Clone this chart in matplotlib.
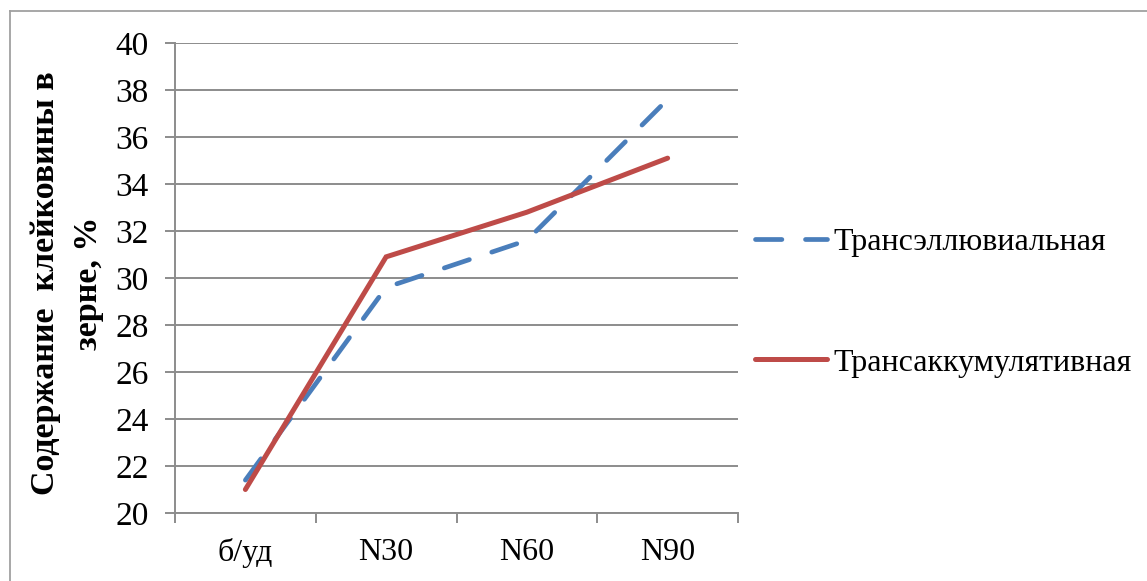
import matplotlib
matplotlib.use("Agg")
import matplotlib.pyplot as plt
from matplotlib.lines import Line2D

plt.rcParams['font.family'] = ['Liberation Serif', 'DejaVu Serif']
plt.rcParams['lines.scale_dashes'] = False

categories = ["б/уд", "N30", "N60", "N90"]
transeluvial = [21.4, 29.6, 31.6, 37.6]
transaccumulative = [21.0, 30.9, 32.8, 35.1]
series_names = ["Трансэллювиальная", "Трансаккумулятивная"]
y_ticks = list(range(20, 41, 2))

W, H = 1147, 581
fig = plt.figure(figsize=(W / 100, H / 100), dpi=100)
ax = fig.add_axes([175 / W, 1 - 513 / H, (738 - 175) / W, (513 - 43) / H])

grid_col = "#8c8c8c"
blue = "#4a7ebb"
red = "#be4b48"

x = list(range(len(categories)))
ax.plot(x, transeluvial, color=blue, lw=3.4, dashes=(19, 17),
        dash_capstyle="round", solid_capstyle="round", label=series_names[0], zorder=3)
ax.plot(x, transaccumulative, color=red, lw=3.6, solid_capstyle="round",
        solid_joinstyle="miter", label=series_names[1], zorder=3)

ax.set_ylim(20, 40)
ax.set_xlim(-0.5, len(categories) - 0.5)
ax.set_yticks(y_ticks)
ax.set_yticklabels([str(v) for v in y_ticks], fontsize=24)
ax.yaxis.grid(True, color=grid_col, lw=1.4)
ax.set_axisbelow(True)

ax.set_xticks([i - 0.5 for i in range(len(categories) + 1)])
ax.set_xticklabels([""] * (len(categories) + 1))
ax.set_xticks(x, minor=True)
ax.set_xticklabels(categories, minor=True, fontsize=23)
ax.tick_params(axis="x", which="minor", length=0, pad=18)
ax.tick_params(axis="x", which="major", length=7, width=1.4, color=grid_col)
ax.tick_params(axis="y", length=7, width=1.4, color=grid_col, pad=12)

for s in ("top", "right"):
    ax.spines[s].set_visible(False)
for s in ("left", "bottom"):
    ax.spines[s].set_color(grid_col)
    ax.spines[s].set_linewidth(1.4)

fig.text(46 / W, 1 - 283 / H, "Содержание  клейковины в", rotation=90,
         ha="center", va="center", fontsize=24.5, fontweight="bold")
fig.text(89 / W, 1 - 283 / H, "зерне, %", rotation=90,
         ha="center", va="center", fontsize=24.5, fontweight="bold")

fig.legend(loc="upper left", bbox_to_anchor=(742 / W, 1 - 215 / H),
           frameon=False, fontsize=23, handlelength=2.25, handletextpad=0.2,
           labelspacing=2.85, borderaxespad=0)

# outer frame lines (left and top)
fig.add_artist(Line2D([10 / W, 10 / W], [0, 1 - 11 / H], color="#a0a0a0", lw=1.3,
                      transform=fig.transFigure))
fig.add_artist(Line2D([10 / W, 1.01], [1 - 11 / H, 1 - 11 / H], color="#a0a0a0", lw=1.3,
                      transform=fig.transFigure))

fig.savefig("out.png", dpi=100)
